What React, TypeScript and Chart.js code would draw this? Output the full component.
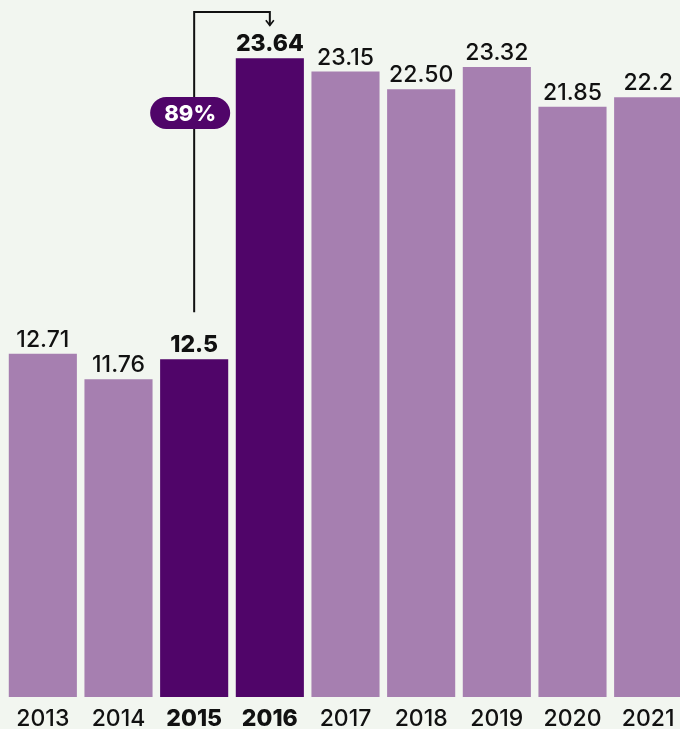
import React, { useEffect, useRef } from "react";
import { Chart, registerables } from "chart.js";

Chart.register(...registerables);

const years = ["2013", "2014", "2015", "2016", "2017", "2018", "2019", "2020", "2021"];
const values = [12.71, 11.76, 12.5, 23.64, 23.15, 22.5, 23.32, 21.85, 22.2];
const valueLabels = ["12.71", "11.76", "12.5", "23.64", "23.15", "22.50", "23.32", "21.85", "22.2"];
const highlighted = ["2015", "2016"];
const changeLabel = "89%";

const BG = "#f2f6f0";
const LIGHT = "#a67fb0";
const DARK = "#500569";
const FONT = "Inter, 'Open Sans', sans-serif";

const textPlugin = {
  id: "texts",
  beforeDraw(chart: any) {
    const { ctx } = chart;
    ctx.save();
    ctx.fillStyle = BG;
    ctx.fillRect(0, 0, chart.width, chart.height);
    ctx.restore();
  },
  afterDatasetsDraw(chart: any) {
    const { ctx } = chart;
    const xs = chart.scales.x;
    const ys = chart.scales.y;
    ctx.save();
    ctx.textAlign = "center";
    ctx.textBaseline = "alphabetic";
    years.forEach((yr, i) => {
      const bold = highlighted.includes(yr);
      const x = xs.getPixelForValue(i);
      const y = ys.getPixelForValue(values[i]);
      ctx.fillStyle = "#111";
      ctx.font = `${bold ? 800 : 500} 23px ${FONT}`;
      ctx.fillText(valueLabels[i], x, y - 7);
      ctx.fillText(yr, x, chart.chartArea.bottom + 29);
    });

    // annotation
    const i0 = years.indexOf("2015");
    const i1 = years.indexOf("2016");
    const x0 = xs.getPixelForValue(i0);
    const x1 = xs.getPixelForValue(i1);
    const yStart = ys.getPixelForValue(values[i0]) - 47;
    const yTop = 12;
    const yEnd = ys.getPixelForValue(values[i1]) - 33;
    ctx.strokeStyle = "#111";
    ctx.lineWidth = 2;
    ctx.beginPath();
    ctx.moveTo(x0, yStart);
    ctx.lineTo(x0, yTop);
    ctx.lineTo(x1, yTop);
    ctx.lineTo(x1, yEnd);
    ctx.stroke();
    ctx.lineWidth = 1.6;
    ctx.beginPath();
    ctx.moveTo(x1 - 4, yEnd - 5);
    ctx.lineTo(x1, yEnd);
    ctx.lineTo(x1 + 4, yEnd - 5);
    ctx.stroke();

    // pill
    const pcx = x0 - 4;
    const pcy = 113;
    const pw = 80;
    const ph = 32;
    ctx.fillStyle = DARK;
    ctx.beginPath();
    ctx.roundRect(pcx - pw / 2, pcy - ph / 2, pw, ph, ph / 2);
    ctx.fill();
    ctx.fillStyle = "#fff";
    ctx.font = `800 22px ${FONT}`;
    ctx.textBaseline = "middle";
    ctx.fillText(changeLabel, pcx, pcy + 1);
    ctx.restore();
  },
};

export default function App() {
  const ref = useRef<HTMLCanvasElement>(null);
  useEffect(() => {
    document.body.style.background = BG;
    const chart = new Chart(ref.current!, {
      type: "bar",
      data: {
        labels: years,
        datasets: [
          {
            data: values,
            backgroundColor: years.map((y) => (highlighted.includes(y) ? DARK : LIGHT)),
            barPercentage: 0.9,
            categoryPercentage: 1,
          },
        ],
      },
      options: {
        responsive: false,
        animation: false,
        layout: { padding: { left: 5, right: 0, top: 0, bottom: 32 } },
        plugins: { legend: { display: false }, tooltip: { enabled: false } },
        scales: {
          x: { display: false },
          y: { display: false, min: 0, max: 25.8 },
        },
      },
      plugins: [textPlugin],
    });
    return () => chart.destroy();
  }, []);
  return (
    <div
      style={{
        position: "absolute",
        left: 0,
        top: 0,
        width: 680,
        height: 729,
        overflow: "hidden",
        background: BG,
      }}
    >
      <canvas ref={ref} width={686} height={729} />
    </div>
  );
}
